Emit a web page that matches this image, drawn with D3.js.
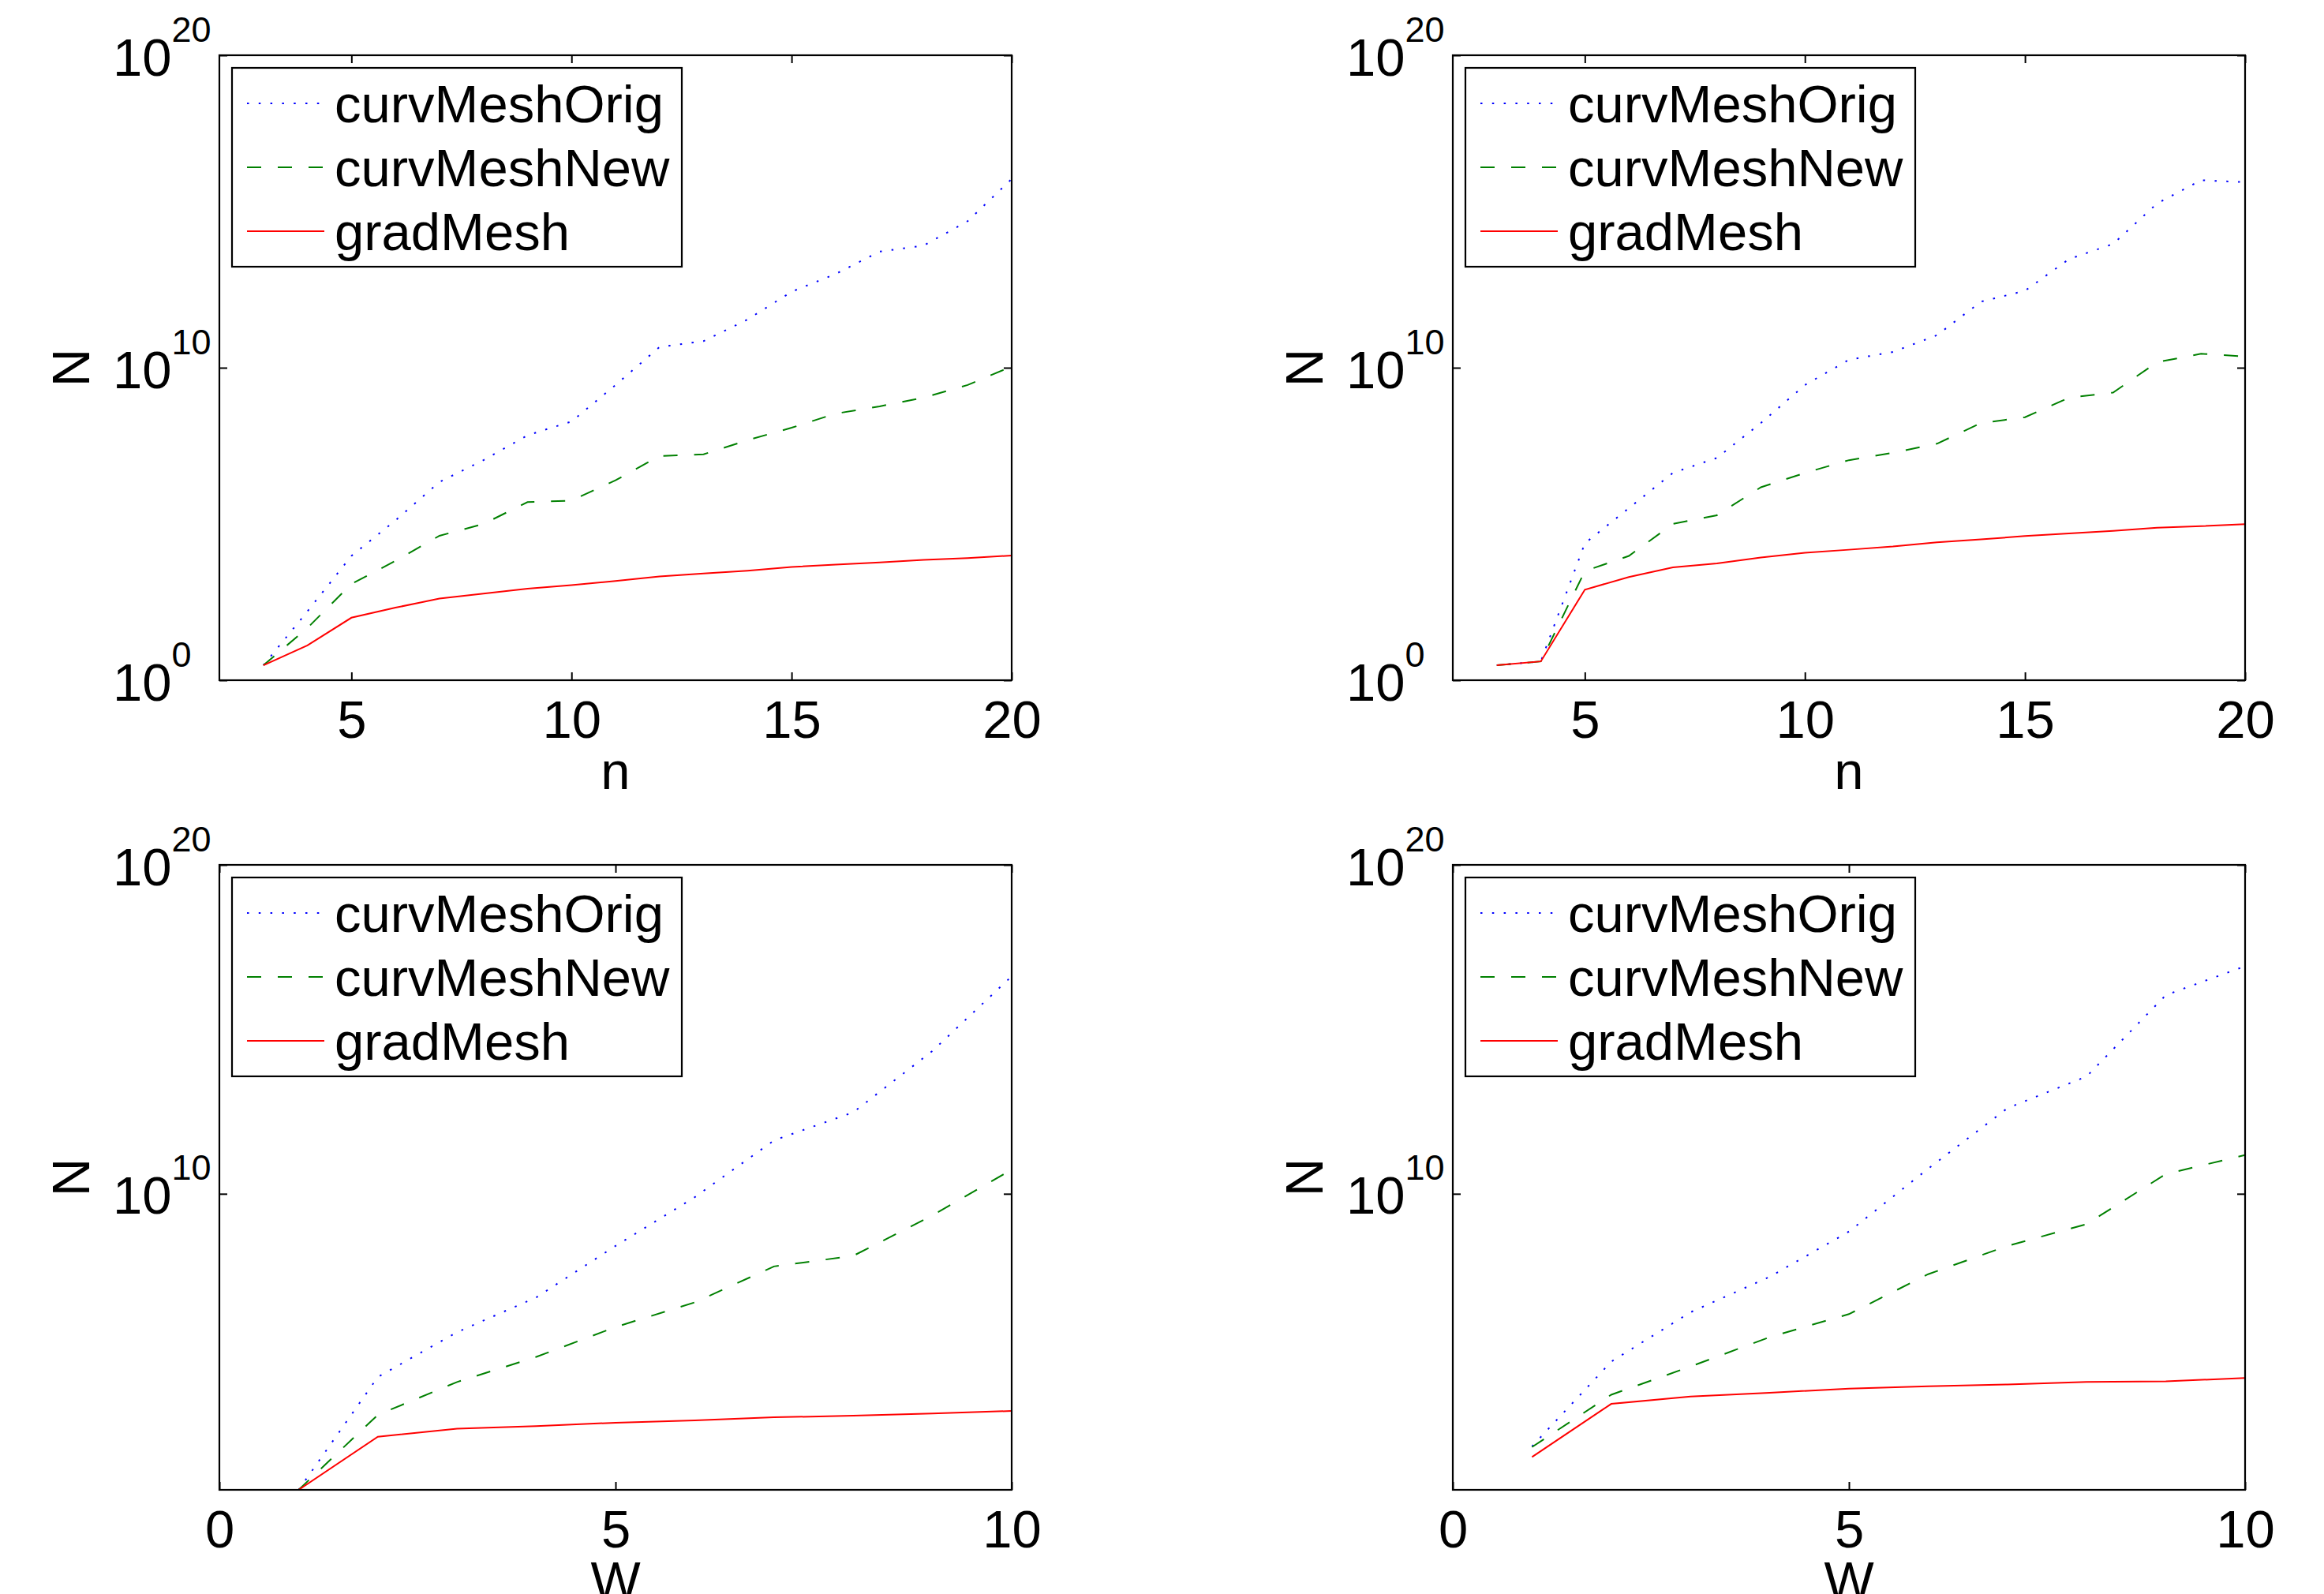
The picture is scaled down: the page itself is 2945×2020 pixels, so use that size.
<!DOCTYPE html>
<html>
<head>
<meta charset="utf-8">
<script src="https://cdn.jsdelivr.net/npm/d3@7"></script>
<style>
  body { margin: 0; background: #fff; }
  svg text { font-family: "Liberation Sans", Arial, Helvetica, sans-serif; fill: #000; }
</style>
</head>
<body>
<svg id="fig" width="2945" height="2020"></svg>
<script>
// ---- data ----
const nValues = [3, 4, 5, 6, 7, 8, 9, 10, 11, 12, 13, 14, 15, 16, 17, 18, 19, 20];
const wValues = [1, 2, 3, 4, 5, 6, 7, 8, 9, 10];
const seriesNames = ["curvMeshOrig", "curvMeshNew", "gradMesh"];
const nTicks = [5, 10, 15, 20];
const wTicks = [0, 5, 10];
const yTicksTop = [1, 1e10, 1e20];
const yTicksBottom = [1e10, 1e20];

// top left: N against n
const origN1 = [3, 160, 9.5e3, 1.3e5, 2.2e6, 1.1e7, 6.9e7, 1.9e8, 2.8e9, 4.6e10, 7.1e10, 3.5e11, 2.7e12, 1.0e13, 5.2e13, 8.1e13, 4.9e14, 1.1e16];
const newN1  = [3, 47, 1.2e3, 6.6e3, 4.2e4, 1.0e5, 5.0e5, 5.6e5, 2.5e6, 1.5e7, 1.7e7, 4.8e7, 1.2e8, 3.4e8, 5.8e8, 1.1e9, 2.8e9, 1.1e10];
const gradN1 = [3, 13, 100, 210, 410, 590, 850, 1100, 1500, 2100, 2600, 3200, 4200, 5000, 5900, 7100, 8100, 9800];

// top right: N against n
const origN2 = [3, 4, 2.4e4, 3.2e5, 4.3e6, 1.3e7, 1.7e8, 2.8e9, 1.8e10, 3.2e10, 1.1e11, 1.3e12, 2.9e12, 3.0e13, 9.1e13, 1.8e15, 1.0e16, 8.7e15];
const newN2  = [3, 4, 3.1e3, 9.5e3, 1.0e5, 1.9e5, 1.5e6, 4.3e6, 1.1e7, 1.9e7, 3.7e7, 1.7e8, 2.6e8, 1.1e9, 1.6e9, 1.5e10, 2.8e10, 2.3e10];
const gradN2 = [3, 4, 790, 2.0e3, 4.1e3, 5.5e3, 8.5e3, 1.2e4, 1.5e4, 1.9e4, 2.6e4, 3.2e4, 4.1e4, 5.0e4, 6.0e4, 7.6e4, 8.5e4, 9.8e4];

// bottom left: N against W
const origW1 = [10, 2.7e4, 6.2e5, 7.1e6, 2.6e8, 7.9e9, 4.2e11, 3.0e12, 2.2e14, 4.1e16];
const newW1  = [10, 1.9e3, 1.9e4, 1.1e5, 8.9e5, 5.0e6, 6.2e7, 1.3e8, 2.2e9, 5.4e10];
const gradW1 = [10, 410, 720, 870, 1100, 1300, 1600, 1800, 2100, 2500];

// bottom right: N against W
const origW2 = [210, 7.9e4, 2.5e6, 3.0e7, 7.1e8, 5.8e10, 4.0e12, 3.7e13, 1.1e16, 8.3e16];
const newW2  = [200, 7.8e3, 5.6e4, 4.4e5, 2.2e6, 3.6e7, 2.6e8, 1.2e9, 4.0e10, 1.5e11];
const gradW2 = [100, 4.1e3, 6.9e3, 8.9e3, 1.2e4, 1.4e4, 1.6e4, 1.9e4, 2.0e4, 2.5e4];

// ---- layout / style ----
const PW = 1004, PH = 792;
const styles = [
  { color: "#0000ff", dash: "2.5,12.3" },
  { color: "#008000", dash: "18,21" },
  { color: "#ff0000", dash: null }
];

const panels = [
  { left: 278,  top: 70,   xs: nValues, xDomain: [2, 20], xTicks: nTicks, yDomain: [1, 1e20],  yTicks: yTicksTop,    xlabel: "n", series: [origN1, newN1, gradN1] },
  { left: 1841, top: 70,   xs: nValues, xDomain: [2, 20], xTicks: nTicks, yDomain: [1, 1e20],  yTicks: yTicksTop,    xlabel: "n", series: [origN2, newN2, gradN2] },
  { left: 278,  top: 1096, xs: wValues, xDomain: [0, 10], xTicks: wTicks, yDomain: [10, 1e20], yTicks: yTicksBottom, xlabel: "W", series: [origW1, newW1, gradW1] },
  { left: 1841, top: 1096, xs: wValues, xDomain: [0, 10], xTicks: wTicks, yDomain: [10, 1e20], yTicks: yTicksBottom, xlabel: "W", series: [origW2, newW2, gradW2] }
];

const svg = d3.select("#fig");
svg.append("rect").attr("width", 2945).attr("height", 2020).attr("fill", "#fff");

panels.forEach(function (p, pi) {
  const g = svg.append("g").attr("transform", "translate(" + p.left + "," + p.top + ")");
  const x = d3.scaleLinear().domain(p.xDomain).range([0, PW]);
  const y = d3.scaleLog().domain(p.yDomain).range([PH, 0]);

  g.append("clipPath").attr("id", "clip" + pi)
    .append("rect").attr("width", PW).attr("height", PH);

  // data lines
  const line = d3.line().x((d, i) => x(p.xs[i])).y(d => y(d));
  p.series.forEach(function (s, si) {
    g.append("path")
      .attr("clip-path", "url(#clip" + pi + ")")
      .attr("d", line(s))
      .attr("fill", "none")
      .attr("stroke", styles[si].color)
      .attr("stroke-width", 2)
      .attr("stroke-dasharray", styles[si].dash);
  });

  // axes, ticks pointing inward on all four sides
  const bottom = g.append("g").attr("transform", "translate(0," + PH + ")")
    .call(d3.axisBottom(x).tickValues(p.xTicks).tickSizeInner(-10).tickSizeOuter(0).tickPadding(25));
  bottom.selectAll("text").attr("font-size", 67).attr("font-family", null);
  g.append("g").call(d3.axisTop(x).tickValues(p.xTicks).tickSizeInner(-10).tickSizeOuter(0).tickFormat(""));
  g.append("g").attr("transform", "translate(" + PW + ",0)")
    .call(d3.axisRight(y).tickValues(p.yTicks).tickSizeInner(-10).tickSizeOuter(0).tickFormat(""));
  const left = g.append("g")
    .call(d3.axisLeft(y).tickValues(p.yTicks).tickSizeInner(-10).tickSizeOuter(0).tickFormat(() => "10"));
  left.selectAll(".tick text")
    .attr("font-size", 67).attr("font-family", null)
    .attr("text-anchor", "start").attr("x", -135).attr("dy", null).attr("y", 25)
    .append("tspan").attr("dy", -43).attr("font-size", 45)
    .text(d => Math.round(Math.log10(d)));

  g.selectAll(".domain").remove();
  g.selectAll(".tick line").attr("stroke", "#000").attr("stroke-width", 2);

  g.append("rect").attr("width", PW).attr("height", PH)
    .attr("fill", "none").attr("stroke", "#000").attr("stroke-width", 2.2);

  // axis labels
  g.append("text").attr("x", PW / 2).attr("y", PH + 138)
    .attr("text-anchor", "middle").attr("font-size", 67).text(p.xlabel);
  g.append("text")
    .attr("transform", "translate(-165," + PH / 2 + ") rotate(-90)")
    .attr("text-anchor", "middle").attr("font-size", 67).text("N");

  // legend
  const lg = g.append("g").attr("transform", "translate(16,16)");
  lg.append("rect").attr("width", 570).attr("height", 252)
    .attr("fill", "#fff").attr("stroke", "#000").attr("stroke-width", 2.2);
  seriesNames.forEach(function (name, si) {
    const ly = 45 + si * 81;
    lg.append("line").attr("x1", 19).attr("x2", 117).attr("y1", ly).attr("y2", ly)
      .attr("stroke", styles[si].color).attr("stroke-width", 2)
      .attr("stroke-dasharray", styles[si].dash);
    lg.append("text").attr("x", 130).attr("y", ly + 24)
      .attr("font-size", 67).text(name);
  });
});
</script>
</body>
</html>
